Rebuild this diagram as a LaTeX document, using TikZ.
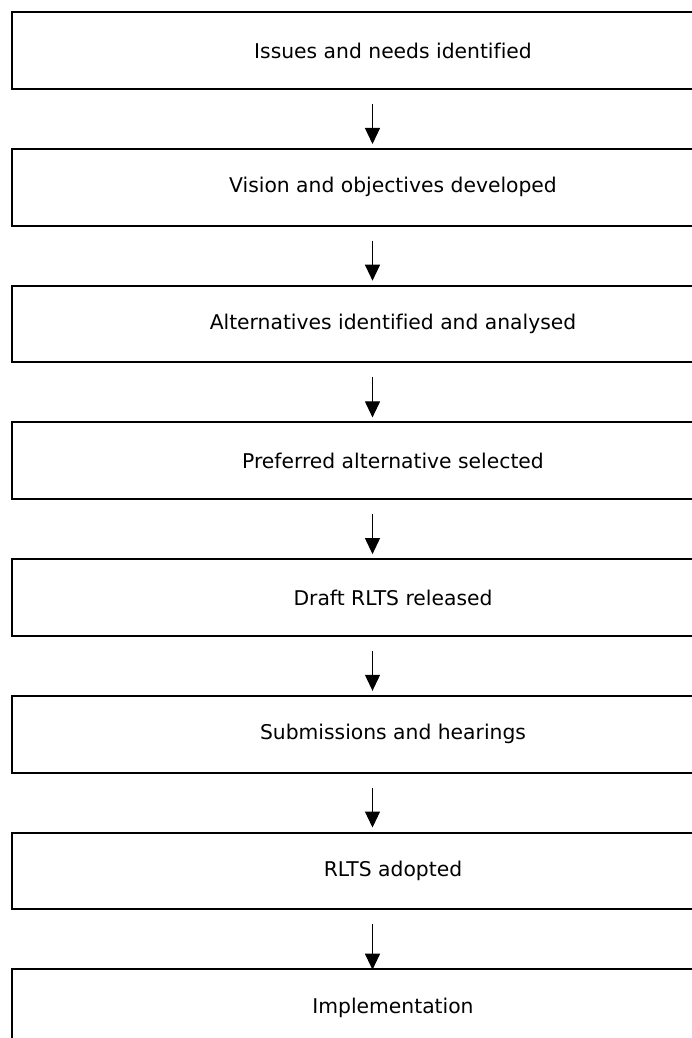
\documentclass[tikz,border=0pt]{standalone}
\usepackage{fontspec}
\setmainfont[Ligatures=NoCommon]{DejaVu Sans}
\usetikzlibrary{arrows.meta}
\tikzset{
  stepbox/.style={draw=black, line width=2pt, minimum width=762pt, minimum height=76.7pt, inner sep=0pt, font=\fontsize{20.3pt}{24pt}\selectfont, text=black},
  flowarrow/.style={draw=black, line width=1.1pt, -{Triangle[width=15pt,length=16pt]}}
}
\begin{document}
\begin{tikzpicture}[x=1pt,y=1pt]
\clip (0,0) rectangle (692,-1038);
\fill[white] (0,0) rectangle (692,-1038);
\node[stepbox] (b1) at (393,-50.65) {Issues and needs identified};
\node[stepbox] (b2) at (393,-187.35) {Vision and objectives developed};
\node[stepbox] (b3) at (393,-324.05) {Alternatives identified and analysed};
\node[stepbox] (b4) at (393,-460.75) {Preferred alternative selected};
\node[stepbox] (b5) at (393,-597.45) {Draft RLTS released};
\node[stepbox] (b6) at (393,-734.15) {Submissions and hearings};
\node[stepbox] (b7) at (393,-870.85) {RLTS adopted};
\node[stepbox] (b8) at (393,-1007.55) {Implementation};
\foreach \a/\b in {b1/b2,b2/b3,b3/b4,b4/b5,b5/b6,b6/b7}
  \draw[flowarrow] ([xshift=-20.5pt,yshift=-14pt]\a.south) -- ([xshift=-20.5pt,yshift=4pt]\b.north);
\draw[flowarrow] ([xshift=-20.5pt,yshift=-14pt]b7.south) -- ([xshift=-20.5pt,yshift=-1.5pt]b8.north);
\end{tikzpicture}
\end{document}
